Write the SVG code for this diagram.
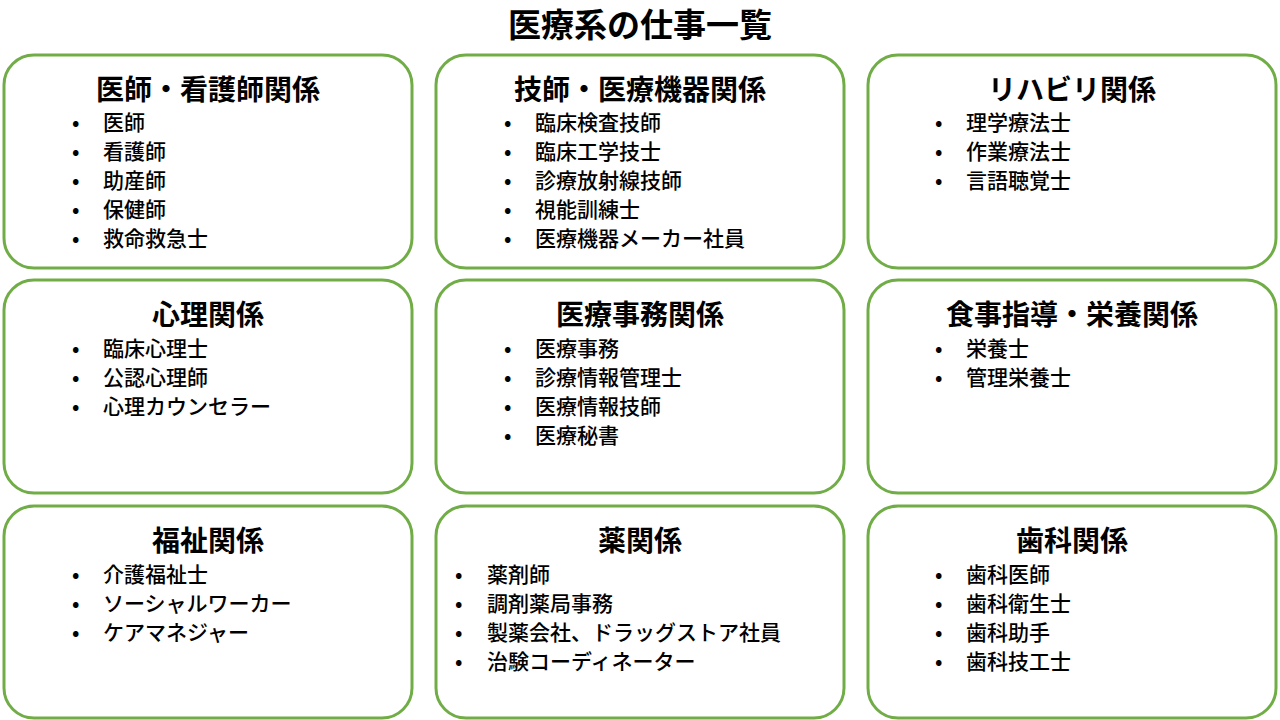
<svg xmlns="http://www.w3.org/2000/svg" width="1280" height="720" viewBox="0 0 1280 720">
<style>
.b{fill:#fff;stroke:#70AD47;stroke-width:3}
text{font-family:"Noto Sans CJK JP","Noto Sans",sans-serif;fill:#000}
.t{font-size:33px;font-weight:bold;text-anchor:middle}
.h{font-size:28px;font-weight:bold;text-anchor:middle}
.i{font-size:21px;font-weight:500}
</style>
<rect width="1280" height="720" fill="#fff"/>
<text class="t" x="640" y="37">医療系の仕事一覧</text>
<g id="n1"><rect class="b" x="4" y="55" width="408" height="213" rx="30"/><text class="h" x="208" y="100">医師・看護師関係</text>
<text class="i" x="72" y="130">•<tspan x="103">医師</tspan></text><text class="i" x="72" y="159">•<tspan x="103">看護師</tspan></text><text class="i" x="72" y="188">•<tspan x="103">助産師</tspan></text><text class="i" x="72" y="217">•<tspan x="103">保健師</tspan></text><text class="i" x="72" y="246">•<tspan x="103">救命救急士</tspan></text></g>
<g id="n2"><rect class="b" x="436" y="55" width="408" height="213" rx="30"/><text class="h" x="640" y="100">技師・医療機器関係</text>
<text class="i" x="504" y="130">•<tspan x="535">臨床検査技師</tspan></text><text class="i" x="504" y="159">•<tspan x="535">臨床工学技士</tspan></text><text class="i" x="504" y="188">•<tspan x="535">診療放射線技師</tspan></text><text class="i" x="504" y="217">•<tspan x="535">視能訓練士</tspan></text><text class="i" x="504" y="246">•<tspan x="535">医療機器メーカー社員</tspan></text></g>
<g id="n3"><rect class="b" x="868" y="55" width="408" height="213" rx="30"/><text class="h" x="1072" y="100">リハビリ関係</text>
<text class="i" x="935" y="130">•<tspan x="966">理学療法士</tspan></text><text class="i" x="935" y="159">•<tspan x="966">作業療法士</tspan></text><text class="i" x="935" y="188">•<tspan x="966">言語聴覚士</tspan></text></g>
<g id="n4"><rect class="b" x="4" y="280" width="408" height="213" rx="30"/><text class="h" x="208" y="325">心理関係</text>
<text class="i" x="72" y="356">•<tspan x="103">臨床心理士</tspan></text><text class="i" x="72" y="385">•<tspan x="103">公認心理師</tspan></text><text class="i" x="72" y="414">•<tspan x="103">心理カウンセラー</tspan></text></g>
<g id="n5"><rect class="b" x="436" y="280" width="408" height="213" rx="30"/><text class="h" x="640" y="325">医療事務関係</text>
<text class="i" x="504" y="356">•<tspan x="535">医療事務</tspan></text><text class="i" x="504" y="385">•<tspan x="535">診療情報管理士</tspan></text><text class="i" x="504" y="414">•<tspan x="535">医療情報技師</tspan></text><text class="i" x="504" y="443">•<tspan x="535">医療秘書</tspan></text></g>
<g id="n6"><rect class="b" x="868" y="280" width="408" height="213" rx="30"/><text class="h" x="1072" y="325">食事指導・栄養関係</text>
<text class="i" x="935" y="356">•<tspan x="966">栄養士</tspan></text><text class="i" x="935" y="385">•<tspan x="966">管理栄養士</tspan></text></g>
<g id="n7"><rect class="b" x="4" y="506" width="408" height="212" rx="30"/><text class="h" x="208" y="551">福祉関係</text>
<text class="i" x="72" y="582">•<tspan x="103">介護福祉士</tspan></text><text class="i" x="72" y="611">•<tspan x="103">ソーシャルワーカー</tspan></text><text class="i" x="72" y="640">•<tspan x="103">ケアマネジャー</tspan></text></g>
<g id="n8"><rect class="b" x="436" y="506" width="408" height="212" rx="30"/><text class="h" x="640" y="551">薬関係</text>
<text class="i" x="455" y="582">•<tspan x="487">薬剤師</tspan></text><text class="i" x="455" y="611">•<tspan x="487">調剤薬局事務</tspan></text><text class="i" x="455" y="640">•<tspan x="487">製薬会社、ドラッグストア社員</tspan></text><text class="i" x="455" y="669">•<tspan x="487">治験コーディネーター</tspan></text></g>
<g id="n9"><rect class="b" x="868" y="506" width="408" height="212" rx="30"/><text class="h" x="1072" y="551">歯科関係</text>
<text class="i" x="935" y="582">•<tspan x="966">歯科医師</tspan></text><text class="i" x="935" y="611">•<tspan x="966">歯科衛生士</tspan></text><text class="i" x="935" y="640">•<tspan x="966">歯科助手</tspan></text><text class="i" x="935" y="669">•<tspan x="966">歯科技工士</tspan></text></g>
<g id="connectors"></g>
</svg>
